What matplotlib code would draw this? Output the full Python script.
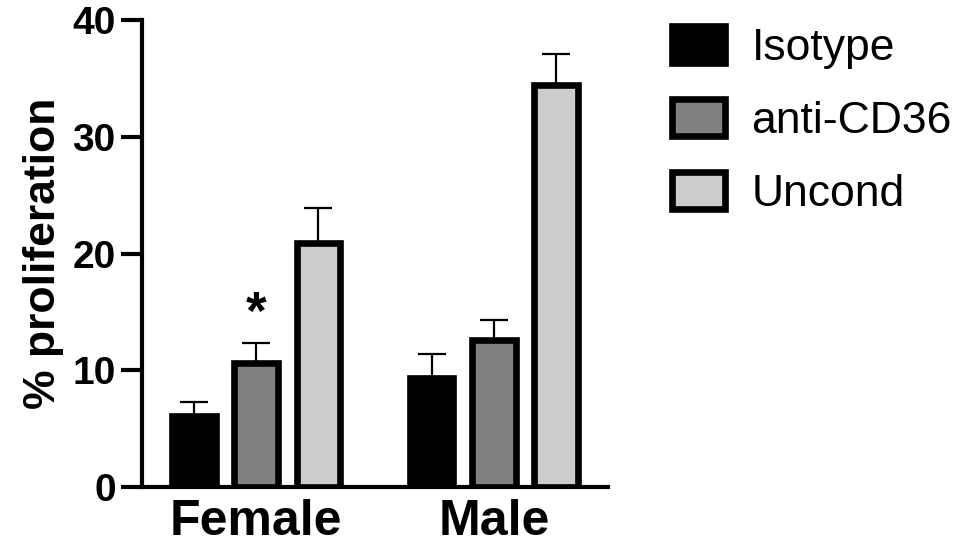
import numpy as np
import matplotlib.pyplot as plt

plt.rcParams['font.family'] = ['Liberation Sans', 'DejaVu Sans']

groups = ['Female', 'Male']
treatments = ['Isotype', 'anti-CD36', 'Uncond']
colors = ['#000000', '#808080', '#cccccc']

means = {
    'Isotype': [6.1, 9.3],
    'anti-CD36': [10.6, 12.6],
    'Uncond': [20.9, 34.4],
}
errs = {
    'Isotype': [1.15, 2.05],
    'anti-CD36': [1.75, 1.7],
    'Uncond': [3.0, 2.7],
}

group_pos = np.array([0.0, 3.82])
offsets = [-1, 0, 1]
width = 0.7

fig = plt.figure(figsize=(9.57, 5.47), dpi=100)
ax = fig.add_axes([0.1484, 0.1097, 0.4869, 0.8537])

for i, t in enumerate(treatments):
    x = group_pos + offsets[i]
    ax.bar(x, means[t], width=width, color=colors[i], edgecolor='black',
           linewidth=4.8, label=t, zorder=2)
    ax.errorbar(x, means[t], yerr=[np.zeros(2), errs[t]], fmt='none',
                ecolor='black', elinewidth=1.6, capsize=10, capthick=1.6,
                zorder=1)

# significance marker
ax.text(group_pos[0], 14.7, '*', ha='center', va='center',
        fontsize=38, fontweight='bold')

ax.set_xlim(-1.83, 5.65)
ax.set_ylim(0, 40)
ax.set_yticks([0, 10, 20, 30, 40])
ax.set_xticks(group_pos)
ax.set_xticklabels(groups, fontsize=36, fontweight='bold')
for lab in ax.get_yticklabels():
    lab.set_fontsize(28)
    lab.set_fontweight('bold')
ax.tick_params(axis='y', length=15, width=3, pad=4)
ax.tick_params(axis='x', length=0, pad=9)
ax.set_ylabel('% proliferation', fontsize=32, fontweight='bold', labelpad=6)

for s in ['top', 'right']:
    ax.spines[s].set_visible(False)
for s in ['left', 'bottom']:
    ax.spines[s].set_linewidth(3)

ax.legend(loc='upper left', bbox_to_anchor=(1.10, 1.025), frameon=False,
          fontsize=32, handlelength=1.18, handleheight=0.9,
          handletextpad=0.6, labelspacing=0.68, borderaxespad=0)

plt.savefig('out.png', dpi=100)
